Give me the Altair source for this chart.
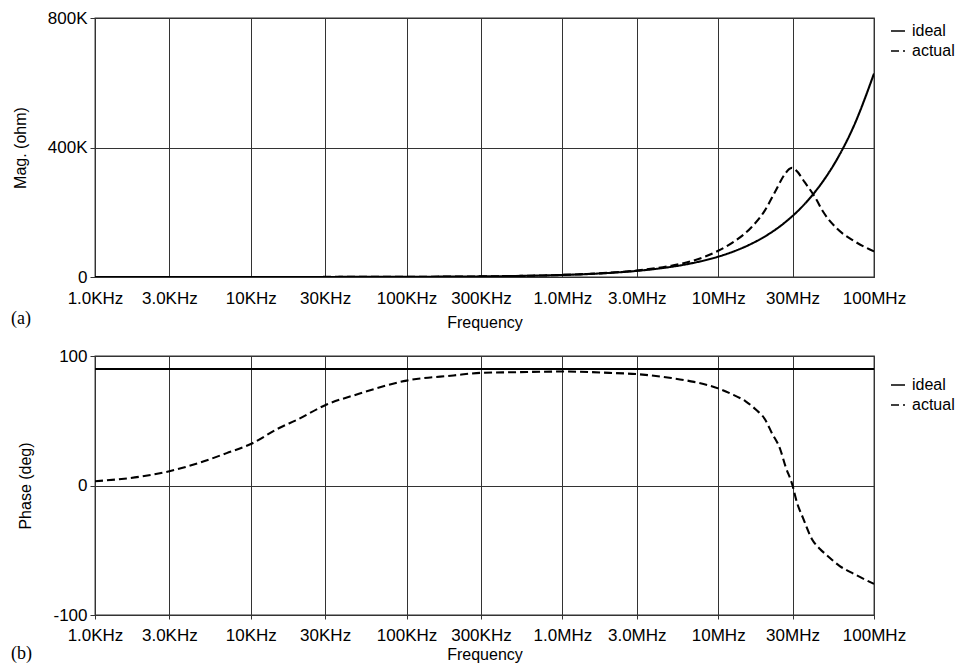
import altair as alt
import pandas as pd

# ---- data ----
mag_freq = [1e3, 2e3, 3e3, 5e3, 7e3, 1e4, 1.5e4, 2e4, 3e4, 5e4, 7e4, 1e5, 2e5, 3e5, 5e5, 7e5,
            1e6, 2e6, 3e6, 5e6, 6.7e6, 1e7, 1.27e7, 1.63e7, 1.99e7, 2.31e7, 2.68e7, 2.85e7,
            2.97e7, 3.15e7, 3.6e7, 4.19e7, 4.74e7, 5.77e7, 7.4e7, 1e8]
ideal_mag = [6, 13, 19, 31, 44, 63, 94, 126, 188, 314, 440, 628, 1257, 1885, 3142, 4398,
             6283, 12566, 18850, 31416, 42100, 62832, 79800, 102400, 125000, 145100, 168400,
             179100, 186600, 197900, 226200, 263300, 297800, 362500, 465000, 628319]
actual_mag = [120, 125, 130, 140, 150, 150, 170, 200, 240, 360, 480, 660, 1300, 1900, 3200, 4500,
              6500, 13200, 20000, 35000, 48500, 81000, 110000, 153000, 205000, 262000, 318000,
              333000, 337000, 330000, 292000, 246000, 200000, 150000, 112000, 79000]

phase_ideal_freq = [1e3, 1e8]
ideal_phase = [90, 90]
phase_freq = [1e3, 2e3, 3e3, 5e3, 7e3, 1e4, 1.5e4, 2e4, 3e4, 5e4, 1e5, 2e5, 3e5, 5e5, 1e6, 2e6,
              3e6, 5e6, 7e6, 1e7, 1.2e7, 1.5e7, 1.75e7, 2e7, 2.2e7, 2.5e7, 2.7e7, 3e7, 3.2e7,
              3.5e7, 4e7, 4.5e7, 5e7, 6e7, 7.5e7, 1e8]
actual_phase = [3.3, 7, 11, 18.7, 25, 32, 44, 51, 62, 71, 81, 85, 87, 87.5, 88, 87, 86, 83, 80,
                75, 71, 65, 58.5, 51, 41, 28, 15, 0, -13, -25, -41.5, -49, -54, -62, -68.5, -76]

x_ticks = [1e3, 3e3, 1e4, 3e4, 1e5, 3e5, 1e6, 3e6, 1e7, 3e7, 1e8]
x_tick_labels = ["1.0KHz", "3.0KHz", "10KHz", "30KHz", "100KHz", "300KHz",
                 "1.0MHz", "3.0MHz", "10MHz", "30MHz", "100MHz"]
mag_ticks = [0, 400000, 800000]
mag_tick_labels = ["0", "400K", "800K"]
phase_ticks = [-100, 0, 100]
phase_tick_labels = ["-100", "0", "100"]
series = ["ideal", "actual"]

# ---- tables ----
mag_df = pd.concat([
    pd.DataFrame({"freq": mag_freq, "value": ideal_mag, "series": "ideal"}),
    pd.DataFrame({"freq": mag_freq, "value": actual_mag, "series": "actual"}),
])
phase_df = pd.concat([
    pd.DataFrame({"freq": phase_ideal_freq, "value": ideal_phase, "series": "ideal"}),
    pd.DataFrame({"freq": phase_freq, "value": actual_phase, "series": "actual"}),
])


def label_expr(values, labels):
    expr = "''"
    for v, l in reversed(list(zip(values, labels))):
        expr = f"abs(datum.value - {v}) < {abs(v) * 1e-6 + 1e-9} ? '{l}' : ({expr})"
    return expr


FONT = "Liberation Sans"
SERIF = "Liberation Serif"


def panel(df, y_title, y_domain, y_ticks, y_labels, x_ticksize, x_labelpad, x_titlepad,
          legend_y, tag, tag_offset, h):
    x = alt.X("freq:Q", scale=alt.Scale(type="log", domain=[1e3, 1e8], nice=False),
              axis=alt.Axis(values=x_ticks, labelExpr=label_expr(x_ticks, x_tick_labels),
                            title="Frequency", tickSize=x_ticksize, ticks=x_ticksize > 0,
                            labelPadding=x_labelpad, titlePadding=x_titlepad, labelFlush=False))
    y = alt.Y("value:Q", scale=alt.Scale(domain=y_domain, nice=False, zero=False),
              axis=alt.Axis(values=y_ticks, labelExpr=label_expr(y_ticks, y_labels),
                            title=y_title, tickSize=5, labelPadding=3, titlePadding=19))
    dash = alt.StrokeDash("series:N",
                          scale=alt.Scale(domain=series, range=[[1, 0], [8, 4]]),
                          legend=alt.Legend(title=None, orient="none", legendX=795, legendY=legend_y,
                                            padding=0,
                                            symbolType="stroke", symbolSize=196,
                                            symbolStrokeColor="black", symbolStrokeWidth=1.6,
                                            labelFontSize=16, labelFont=FONT, labelColor="black",
                                            rowPadding=4, labelOffset=6))
    return alt.Chart(df).mark_line(color="black", strokeWidth=2.1, interpolate="monotone",
                                   clip=True).encode(
        x=x, y=y, strokeDash=dash, detail="series:N"
    ).properties(width=779, height=h,
                 title=alt.TitleParams(tag, orient="bottom", anchor="start", frame="group",
                                       font=SERIF, fontSize=18, fontWeight="normal", dx=-84,
                                       offset=tag_offset, color="black"))


top = panel(mag_df, "Mag. (ohm)", [0, 800000], mag_ticks, mag_tick_labels, 0, 13, 8,
            5, "(a)", -20, 259)
bottom = panel(phase_df, "Phase (deg)", [-100, 100], phase_ticks, phase_tick_labels, 4, 8, 3,
               21, "(b)", -17, 259)

chart = alt.vconcat(top, bottom, spacing=15).resolve_scale(strokeDash="independent").properties(
    padding={"left": 2, "top": 0, "right": 0, "bottom": 0}
).configure_view(stroke="#333", strokeWidth=1.3).configure_axis(
    grid=True, gridColor="#333", gridWidth=1, gridOpacity=1,
    domainColor="#333", tickColor="#333",
    labelFont=FONT, labelFontSize=17, labelColor="black",
    titleFont=FONT, titleFontSize=16, titleFontWeight="normal", titleColor="black"
)

chart.save("out.html", embed_options={"renderer": "svg", "actions": False})
